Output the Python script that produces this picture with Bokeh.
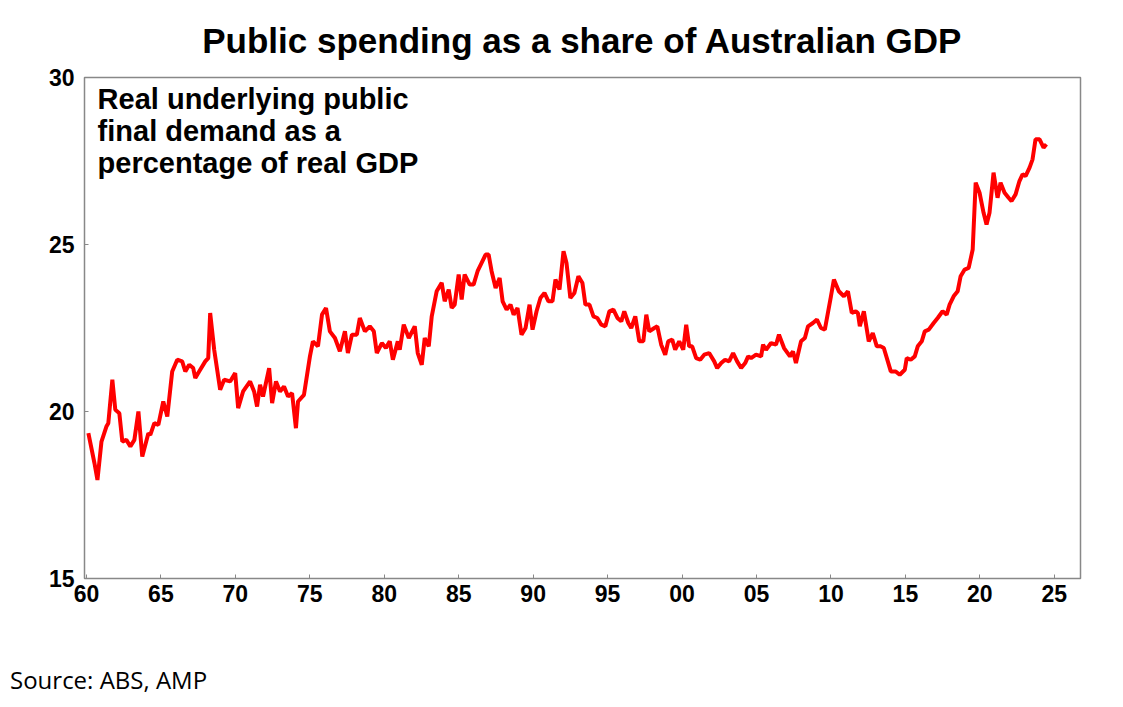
from bokeh.plotting import figure
from bokeh.models import Label, Range1d, FixedTicker, Div
from bokeh.layouts import column
from bokeh.embed import file_html
from bokeh.resources import INLINE

year_offset = [0.13,0.54,0.74,1.01,1.34,1.47,1.74,1.94,2.21,2.41,2.68,2.95,3.22,3.49,3.75,4.16,4.29,4.56,4.83,5.16,5.43,5.76,6.10,6.43,6.64,6.90,7.17,7.31,7.57,7.98,8.18,8.31,8.58,8.98,9.25,9.65,9.99,10.19,10.52,10.99,11.26,11.46,11.66,11.86,12.27,12.47,12.73,13.00,13.27,13.54,13.81,14.07,14.21,14.61,15.01,15.21,15.55,15.82,16.09,16.35,16.69,17.02,17.36,17.56,17.83,18.16,18.36,18.70,19.03,19.30,19.50,19.84,20.11,20.37,20.58,20.91,21.04,21.31,21.65,22.05,22.25,22.52,22.72,22.99,23.19,23.52,23.86,24.06,24.33,24.53,24.73,25.00,25.20,25.40,25.74,26.00,26.27,26.54,26.81,27.01,27.21,27.48,27.75,27.95,28.22,28.48,28.69,28.95,29.22,29.49,29.76,29.96,30.23,30.49,30.76,31.03,31.30,31.50,31.77,32.04,32.24,32.50,32.77,33.04,33.31,33.51,33.78,34.05,34.31,34.58,34.85,35.12,35.39,35.66,35.92,36.12,36.39,36.59,36.86,37.13,37.40,37.60,37.80,38.14,38.34,38.60,38.87,39.07,39.34,39.54,39.81,40.08,40.28,40.48,40.68,40.95,41.22,41.49,41.82,42.16,42.36,42.63,42.89,43.16,43.43,43.70,43.97,44.24,44.44,44.64,44.97,45.31,45.44,45.64,45.98,46.31,46.51,46.85,47.25,47.45,47.65,47.99,48.25,48.46,48.79,49.06,49.33,49.59,50.00,50.20,50.53,50.87,51.14,51.40,51.67,51.81,51.94,52.21,52.54,52.81,53.08,53.35,53.55,53.82,54.02,54.35,54.62,54.96,55.09,55.36,55.63,55.83,56.10,56.30,56.57,56.90,57.17,57.50,57.77,57.97,58.24,58.51,58.71,58.98,59.25,59.52,59.72,59.98,60.25,60.45,60.65,60.92,61.19,61.39,61.66,61.93,62.13,62.40,62.66,62.87,63.07,63.34,63.54,63.74,64.01,64.28,64.47]
share = [19.35,18.45,17.95,19.1,19.55,19.65,20.95,20.05,19.95,19.1,19.15,18.95,19.15,20.0,18.65,19.35,19.3,19.65,19.6,20.3,19.85,21.2,21.55,21.5,21.2,21.4,21.3,21.0,21.2,21.5,21.6,22.95,21.85,20.65,20.95,20.9,21.15,20.1,20.6,20.9,20.6,20.15,20.8,20.45,21.3,20.25,20.9,20.6,20.75,20.45,20.55,19.5,20.3,20.5,21.65,22.1,21.95,22.9,23.1,22.4,22.2,21.8,22.4,21.75,22.3,22.3,22.8,22.4,22.55,22.4,21.75,22.05,21.9,22.1,21.55,22.1,21.85,22.6,22.2,22.55,21.75,21.4,22.2,21.95,22.85,23.6,23.85,23.3,23.65,23.1,23.2,24.1,23.35,24.1,23.8,23.8,24.2,24.45,24.7,24.7,24.2,23.7,24.0,23.3,23.05,23.2,22.9,23.1,22.3,22.5,23.2,22.45,23.0,23.4,23.55,23.3,23.3,23.95,23.65,24.8,24.45,23.4,23.55,24.05,23.85,23.2,23.2,22.85,22.8,22.6,22.55,23.0,23.05,22.8,22.7,23.0,22.65,22.5,22.85,22.1,22.1,22.9,22.4,22.5,22.55,22.0,21.7,22.1,22.15,21.85,22.1,21.85,22.6,21.95,21.95,21.6,21.55,21.7,21.75,21.5,21.3,21.45,21.55,21.5,21.75,21.5,21.3,21.45,21.65,21.6,21.7,21.65,22.0,21.85,22.05,22.0,22.3,21.9,21.65,21.8,21.45,22.1,22.2,22.55,22.65,22.75,22.5,22.45,23.45,23.95,23.6,23.45,23.6,22.95,23.0,22.95,22.55,23.0,22.1,22.35,21.95,21.95,21.9,21.5,21.2,21.2,21.1,21.25,21.6,21.55,21.65,21.95,22.1,22.4,22.45,22.65,22.8,23.0,22.9,23.2,23.45,23.6,24.05,24.25,24.3,24.85,26.85,26.55,25.95,25.6,25.95,27.15,26.4,26.85,26.55,26.4,26.3,26.5,26.9,27.1,27.05,27.3,27.55,28.15,28.15,27.9,28.0]
years = [1960 + o for o in year_offset]
tick_years = [1960,1965,1970,1975,1980,1985,1990,1995,2000,2005,2010,2015,2020,2025]
tick_labels = ["60","65","70","75","80","85","90","95","00","05","10","15","20","25"]
y_ticks = [15, 20, 25, 30]

FONT = "Liberation Sans"
p = figure(width=1107, height=606, output_backend="svg", toolbar_location=None,
           x_range=Range1d(1959.87, 2026.76), y_range=Range1d(15, 30),
           min_border_left=84, min_border_right=27, min_border_top=18, min_border_bottom=28)
p.title.text = "Public spending as a share of Australian GDP"
p.title.align = "center"
p.title.text_font = FONT
p.title.text_font_size = "35px"
p.title.text_font_style = "bold"
p.title.text_color = "black"
p.title.standoff = 36

p.line(years, share, line_color="#ff0000", line_width=4)

p.xgrid.visible = False
p.ygrid.visible = False
p.outline_line_color = "#888888"
p.outline_line_width = 1.5

p.xaxis.ticker = FixedTicker(ticks=tick_years)
p.xaxis.major_label_overrides = {t: l for t, l in zip(tick_years, tick_labels)}
p.yaxis.ticker = FixedTicker(ticks=y_ticks)
for ax in (p.xaxis, p.yaxis):
    ax.major_label_text_font = FONT
    ax.major_label_text_font_size = "23px"
    ax.major_label_text_font_style = "bold"
    ax.major_label_text_color = "black"
    ax.axis_line_color = "#888888"
    ax.major_tick_line_color = "#888888"
    ax.major_tick_in = 4
    ax.major_tick_out = 0
    ax.minor_tick_line_color = None
p.xaxis.major_label_standoff = 6
p.yaxis.major_label_standoff = 10

p.add_layout(Label(x=1960.75, y=29.85, text="Real underlying public\nfinal demand as a\npercentage of real GDP",
                   text_font=FONT, text_font_size="29px", text_font_style="bold", text_color="black",
                   text_baseline="top", text_line_height=1.0))

src = Div(text="Source: ABS, AMP", width=400, height=32, margin=(58, 0, 0, 10),
          styles={"font-family": "Open Sans", "font-size": "24px", "color": "black", "line-height": "32px"})

layout = column(p, src)
open("out.html", "w").write(file_html(layout, INLINE))
